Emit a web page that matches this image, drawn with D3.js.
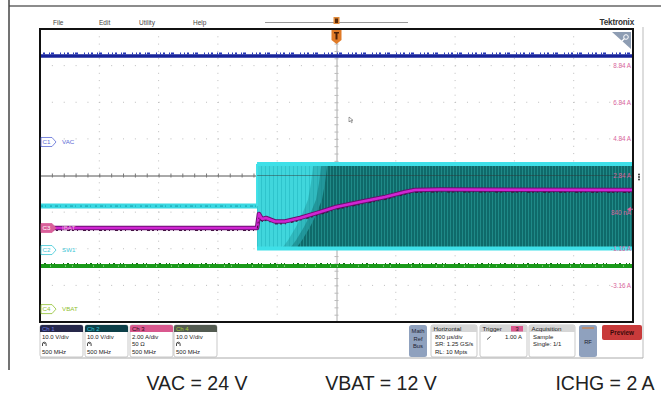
<!DOCTYPE html>
<html><head><meta charset="utf-8">
<script src="https://cdn.jsdelivr.net/npm/d3@7"></script>
<style>body{margin:0;background:#fff}svg{display:block}</style>
</head><body><svg id="c" width="661" height="394"></svg>
<script>
// ---------------- DATA ----------------
const divisionsX = d3.range(-5, 6);          // horizontal divisions (800 us/div)
const divisionsY = d3.range(-4, 5);          // vertical divisions
const timeDomainMs = [-4, 4];

const vacTime = [-4, 4];
const vacVolts = [23.5, 23.5];
const vbatTime = [-4, 4];
const vbatVolts = [11.75, 11.75];
const sw1IdleTime = [-4, -1.072];
const sw1IdleVolts = [12.0, 12.0];
const sw1BandTime = [-1.072, 4];
const sw1BandHigh = [23.5, 23.5];
const sw1BandLow = [0.4, 0.4];
const sw1DenseVolts = [23.0, 22.7, 18.3, 13.7, 9.0, 6.3, 2.7, 0.8, 0.4];
const sw1DenseTime = [-0.120, -0.128, -0.155, -0.196, -0.290, -0.358, -0.465, -0.533, -0.560];
const ibatTime = [-4, -1.072, -1.059, -1.046, -1.005, -0.951, -0.830, -0.695, -0.492, -0.223, -0.007, 0.317, 0.654, 0.924, 1.059, 1.396, 4.0];
const ibatAmps = [0, 0, 0.40, 0.77, 0.49, 0.55, 0.36, 0.36, 0.55, 0.87, 1.15, 1.42, 1.69, 1.97, 2.08, 2.10, 2.08];

const rightTickDivs = [3, 2, 1, 0, -1, -2, -3];
const rightTickLabels = ["8.84 A", "6.84 A", "4.84 A", "2.84 A", "840 nA", "-1.16 A", "-3.16 A"];
const menuItems = ["File", "Edit", "Utility", "Help"];
const channelNames = ["Ch 1", "Ch 2", "Ch 3", "Ch 4"];
const channelScales = ["10.0 V/div", "10.0 V/div", "2.00 A/div", "10.0 V/div"];
const channelTerm = ["", "", "50 Ω", ""];
const channelBandwidth = ["500 MHz", "500 MHz", "500 MHz", "500 MHz"];
const traceBadges = ["C1", "C2", "C3", "C4"];
const traceNames = ["VAC", "SW1", "IBAT", "VBAT"];
const horizontalInfo = ["800 µs/div", "SR: 1.25 GS/s", "RL: 10 Mpts"];
const triggerSource = "3";
const triggerLevel = "1.00 A";
const acquisitionInfo = ["Sample", "Single: 1/1"];
const captions = ["VAC = 24 V", "VBAT = 12 V", "ICHG = 2 A"];

// ---------------- LAYOUT / STYLE ----------------
const svg = d3.select("#c");
const P = {x0: 40, x1: 633, y0: 29, y1: 322};
const x = d3.scaleLinear().domain(timeDomainMs).range([P.x0, P.x1]);
const xDiv = d3.scaleLinear().domain([-5, 5]).range([P.x0, P.x1]);
const yDiv = d3.scaleLinear().domain([-4, 4]).range([P.y1, P.y0]);
const ch = [
  {pos: 0.915, per: 10, color: "#1a2a9a", label: "#5b6bd6"},
  {pos: -2.035, per: 10, color: "#34dce4", label: "#3cc6d6"},
  {pos: -1.434, per: 2, color: "#cc22cc", label: "#d9609a"},
  {pos: -3.648, per: 10, color: "#1c9a1c", label: "#8fc030"}
];
const yCh = i => v => yDiv(ch[i].pos + v / ch[i].per);
const uiFont = "'Liberation Sans', Arial, sans-serif";

svg.append("rect").attr("width", 661).attr("height", 394).attr("fill", "#fff");

const defs = svg.append("defs");
defs.append("clipPath").attr("id", "clip").append("rect")
  .attr("x", P.x0).attr("y", P.y0).attr("width", P.x1 - P.x0).attr("height", P.y1 - P.y0);
const pd = defs.append("pattern").attr("id", "dense").attr("patternUnits", "userSpaceOnUse")
  .attr("width", 3).attr("height", 10);
pd.append("rect").attr("width", 3).attr("height", 10).attr("fill", "#0f6a6a");
pd.append("rect").attr("x", 0).attr("width", 1).attr("height", 10).attr("fill", "#1f8a88");
const pl = defs.append("pattern").attr("id", "light").attr("patternUnits", "userSpaceOnUse")
  .attr("width", 4).attr("height", 10);
pl.append("rect").attr("width", 4).attr("height", 10).attr("fill", "#40d6dc");
pl.append("rect").attr("x", 1).attr("width", 1).attr("height", 10).attr("fill", "#2fc4cc");

// outer frame
svg.append("line").attr("x1", 9).attr("x2", 661).attr("y1", 6).attr("y2", 6).attr("stroke", "#666").attr("stroke-width", 1.5);
svg.append("line").attr("x1", 9).attr("x2", 9).attr("y1", 0).attr("y2", 370).attr("stroke", "#444").attr("stroke-width", 1.5);
svg.append("line").attr("x1", 643).attr("x2", 643).attr("y1", 27).attr("y2", 358).attr("stroke", "#bbb").attr("stroke-width", 1);
svg.append("line").attr("x1", 40).attr("x2", 643).attr("y1", 358).attr("y2", 358).attr("stroke", "#aaa").attr("stroke-width", 1);

// menu
const menuX = [53, 99, 139, 193];
svg.selectAll(".menu").data(menuItems).enter().append("text")
  .attr("x", (d, i) => menuX[i]).attr("y", 24.5).text(d => d)
  .attr("font-family", uiFont).attr("font-size", 6.5).attr("fill", "#444");
svg.append("line").attr("x1", 265).attr("x2", 408).attr("y1", 22.5).attr("y2", 22.5).attr("stroke", "#999");
// tiny trigger T on timeline
svg.append("rect").attr("x", x(0) - 3).attr("y", 17).attr("width", 6).attr("height", 7).attr("fill", "#e08a3a");
svg.append("rect").attr("x", x(0) - 1.5).attr("y", 18.5).attr("width", 3).attr("height", 4.5).attr("fill", "#5a2a0a");
// Tektronix logo
svg.append("text").attr("x", 634).attr("y", 25).attr("text-anchor", "end").text("Tektronix")
  .attr("font-family", uiFont).attr("font-weight", "bold").attr("font-size", 8.2).attr("fill", "#333").attr("letter-spacing", -0.2);

// grid
const g = svg.append("g");
g.selectAll(".gx").data(divisionsX.filter(d => d > -5 && d < 5 && d !== 0)).enter().append("line")
  .attr("x1", d => xDiv(d)).attr("x2", d => xDiv(d)).attr("y1", P.y0).attr("y2", P.y1)
  .attr("stroke", "#bdbdbd").attr("stroke-dasharray", "1,6.3");
g.selectAll(".gy").data(divisionsY.filter(d => d > -4 && d < 4 && d !== 0)).enter().append("line")
  .attr("y1", d => yDiv(d)).attr("y2", d => yDiv(d)).attr("x1", P.x0).attr("x2", P.x1)
  .attr("stroke", "#bdbdbd").attr("stroke-dasharray", "1,10.86");
// center cross with subdivision ticks (via axes)
const axH = d3.axisBottom(xDiv).tickValues(d3.range(-5, 5.01, 0.2)).tickSize(4).tickFormat("");
g.append("g").attr("transform", `translate(0,${yDiv(0) - 2})`).call(axH)
  .call(s => s.selectAll("line").attr("stroke", "#777"))
  .call(s => s.select(".domain").attr("stroke", "#555").attr("transform", "translate(0,2)"));
const axV = d3.axisRight(yDiv).tickValues(d3.range(-4, 4.01, 0.2)).tickSize(4).tickFormat("");
g.append("g").attr("transform", `translate(${xDiv(0) - 2},0)`).call(axV)
  .call(s => s.selectAll("line").attr("stroke", "#bbb"))
  .call(s => s.select(".domain").attr("stroke", "#aaa").attr("transform", "translate(2,0)"));

// traces
const T = svg.append("g").attr("clip-path", "url(#clip)");
const line = (ts, vs, i) => d3.line().x((d, k) => x(ts[k])).y((d, k) => yCh(i)(vs[k]))(vs);

// VAC
T.append("path").attr("d", line(vacTime, vacVolts, 0)).attr("stroke", "#18249a").attr("stroke-width", 3.5).attr("fill", "none");
T.append("path").attr("d", line(vacTime, vacVolts, 0)).attr("transform", "translate(0,-2.5)")
  .attr("stroke", "#2a3ab8").attr("stroke-width", 2).attr("stroke-dasharray", "1,2,2,4,1,1,3,6,1,3").attr("fill", "none");

// SW1 idle
T.append("path").attr("d", line(sw1IdleTime, sw1IdleVolts, 1)).attr("stroke", "#3ad8e2").attr("stroke-width", 5).attr("fill", "none");
T.append("path").attr("d", line(sw1IdleTime, sw1IdleVolts, 1)).attr("stroke", "#1a9aa6").attr("stroke-width", 1).attr("stroke-dasharray", "3,2,1,4,2,3").attr("fill", "none");

// SW1 band - light region
const area = d3.area().x((d, k) => x(sw1BandTime[k])).y0((d, k) => yCh(1)(sw1BandLow[k])).y1((d, k) => yCh(1)(sw1BandHigh[k]));
T.append("path").attr("d", area(sw1BandHigh)).attr("fill", "url(#light)");
// transition zone
const denseEdge = sw1DenseTime.map((t, k) => [x(t), yCh(1)(sw1DenseVolts[k])]);
const densePoly = (dx) => [[x(sw1BandTime[1]), yCh(1)(sw1BandHigh[1])]]
  .concat(denseEdge.map(p => [p[0] + dx, p[1]]))
  .concat([[x(sw1BandTime[1]), yCh(1)(sw1BandLow[1])]]);
T.append("path").attr("d", d3.line()(densePoly(-14)) + "Z").attr("fill", "#1b8e90").attr("opacity", 0.4);
T.append("path").attr("d", d3.line()(densePoly(-6)) + "Z").attr("fill", "#157c7e").attr("opacity", 0.55);
T.append("path").attr("d", d3.line()(densePoly(0)) + "Z").attr("fill", "url(#dense)");
// band edges
T.append("path").attr("d", line(sw1BandTime, sw1BandHigh, 1)).attr("stroke", "#3ee0e8").attr("stroke-width", 4).attr("fill", "none");
T.append("path").attr("d", line(sw1BandTime, sw1BandLow, 1)).attr("stroke", "#3ee0e8").attr("stroke-width", 4).attr("fill", "none");
T.append("line").attr("x1", x(sw1BandTime[0])).attr("x2", x(sw1BandTime[0]))
  .attr("y1", yCh(1)(sw1IdleVolts[1])).attr("y2", yCh(1)(sw1BandHigh[0])).attr("stroke", "#3ee0e8").attr("stroke-width", 2);
// center graticule line seen through band
T.append("line").attr("x1", x(sw1BandTime[0])).attr("x2", P.x1).attr("y1", yDiv(0)).attr("y2", yDiv(0))
  .attr("stroke", "#333").attr("opacity", 0.45);

// VBAT
T.append("path").attr("d", line(vbatTime, vbatVolts, 3)).attr("stroke", "#1a9a1a").attr("stroke-width", 4).attr("fill", "none");
T.append("path").attr("d", line(vbatTime, vbatVolts, 3)).attr("stroke", "#e8ffe8").attr("stroke-width", 1)
  .attr("stroke-dasharray", "1,9,1,14,1,6,1,20").attr("opacity", 0.8).attr("fill", "none");
T.append("path").attr("d", line(vbatTime, vbatVolts, 3)).attr("transform", "translate(0,-2.5)")
  .attr("stroke", "#137013").attr("stroke-width", 1.2).attr("stroke-dasharray", "1,3,2,5,1,2,1,8").attr("fill", "none");

// IBAT
T.append("path").attr("d", line(ibatTime, ibatAmps, 2)).attr("stroke", "#6a1070").attr("stroke-width", 4.5).attr("fill", "none").attr("stroke-linejoin", "round");
T.append("path").attr("d", line(ibatTime, ibatAmps, 2)).attr("stroke", "#d025d2").attr("stroke-width", 2.6).attr("fill", "none").attr("stroke-linejoin", "round");
T.append("path").attr("d", line(ibatTime, ibatAmps, 2)).attr("transform", "translate(0,2.5)")
  .attr("stroke", "#401040").attr("stroke-width", 1).attr("stroke-dasharray", "2,3,1,5,3,2").attr("fill", "none");

// right scale labels (Ch3) drawn over the traces
const axR = d3.axisLeft(yDiv).tickValues(rightTickDivs).tickSize(0).tickPadding(0)
  .tickFormat((d, i) => rightTickLabels[i]);
svg.append("g").attr("transform", `translate(${P.x1 - 2},0)`).call(axR)
  .call(s => s.select(".domain").remove())
  .call(s => s.selectAll("text").attr("fill", "#d8649c").attr("font-family", uiFont).attr("font-size", 6.3));

// graticule border
svg.append("rect").attr("x", P.x0).attr("y", P.y0).attr("width", P.x1 - P.x0).attr("height", P.y1 - P.y0)
  .attr("fill", "none").attr("stroke", "#111").attr("stroke-width", 2);

// trigger marker at top
const tx = x(0);
svg.append("path").attr("d", `M${tx - 5},30 h10 v10 l-5,4 l-5,-4 Z`).attr("fill", "#e07b28");
svg.append("path").attr("d", `M${tx - 2.5},32 h5 v1.5 h-1.5 v6 h-2 v-6 h-1.5 Z`).attr("fill", "#4a2008");

// magnifier triangle
svg.append("path").attr("d", "M612,32 L631,32 L631,49 Z").attr("fill", "#8e9db3");
svg.append("circle").attr("cx", 626).attr("cy", 37).attr("r", 2.3).attr("fill", "none").attr("stroke", "#fff").attr("stroke-width", 1);
svg.append("line").attr("x1", 624.3).attr("y1", 38.8).attr("x2", 620).attr("y2", 43).attr("stroke", "#fff").attr("stroke-width", 1.2);

// channel badges on the left
traceBadges.forEach((b, i) => {
  const yy = yDiv(ch[i].pos);
  const filled = i === 2;
  svg.append("path").attr("d", `M41,${yy - 4.5} h11 l4,4.5 l-4,4.5 h-11 Z`)
    .attr("fill", filled ? ch[i].label : "#fff").attr("stroke", ch[i].label).attr("stroke-width", 0.8);
  svg.append("text").attr("x", 42.5).attr("y", yy + 2.2).text(b)
    .attr("font-family", uiFont).attr("font-size", 6.2).attr("fill", filled ? "#fff" : ch[i].label);
  svg.append("text").attr("x", 62).attr("y", yy + 2.2).text(traceNames[i])
    .attr("font-family", uiFont).attr("font-size", 6.2).attr("fill", filled ? "#f2b8dc" : ch[i].label);
});

// right side markers
svg.append("path").attr("d", `M627,${yDiv(-0.92)} l4,-2.5 v5 Z`).attr("fill", "#d8649c");
svg.append("line").attr("x1", 629).attr("x2", 633).attr("y1", yDiv(-0.92)).attr("y2", yDiv(-0.92)).attr("stroke", "#d8649c");
[-2.5, 0, 2.5].forEach(d => svg.append("circle").attr("cx", 639).attr("cy", 177 + d).attr("r", 0.9).attr("fill", "#222"));
// mouse cursor
svg.append("path").attr("d", "M349,117 l0,5 l1.3,-1.3 l1.2,2 l0.8,-0.4 l-1.1,-2 l1.8,0 Z").attr("fill", "#fff").attr("stroke", "#444").attr("stroke-width", 0.5);

// bottom channel boxes
const boxX = [40, 85, 130, 174];
const hdrFill = ["#26284a", "#0c3f48", "#d9588e", "#525a50"];
const hdrText = ["#6a7ae0", "#38c8d8", "#2a0a18", "#a8cc38"];
channelNames.forEach((n, i) => {
  const bx = boxX[i], w = 43;
  svg.append("rect").attr("x", bx).attr("y", 325).attr("width", w).attr("height", 32).attr("rx", 2)
    .attr("fill", "#fff").attr("stroke", "#bbb").attr("stroke-width", 0.8);
  svg.append("path").attr("d", `M${bx},332 v-5 q0,-2 2,-2 h${w - 4} q2,0 2,2 v5 Z`).attr("fill", hdrFill[i]);
  svg.append("text").attr("x", bx + 2).attr("y", 330.8).text(n).attr("font-family", uiFont).attr("font-size", 6).attr("fill", hdrText[i]);
  svg.append("text").attr("x", bx + 2).attr("y", 338.5).text(channelScales[i]).attr("font-family", uiFont).attr("font-size", 6).attr("fill", "#222");
  if (channelTerm[i]) {
    svg.append("text").attr("x", bx + 2).attr("y", 346).text(channelTerm[i]).attr("font-family", uiFont).attr("font-size", 6).attr("fill", "#222");
  } else {
    svg.append("path").attr("d", `M${bx + 2.5},346 v-2 a1.8,1.8 0 0 1 3.6,0 v2 M${bx + 4.3},344 v-1`).attr("fill", "none").attr("stroke", "#333").attr("stroke-width", 0.9);
  }
  svg.append("text").attr("x", bx + 2).attr("y", 354).text(channelBandwidth[i]).attr("font-family", uiFont).attr("font-size", 6).attr("fill", "#222");
});

// Math/Ref/Bus
svg.append("rect").attr("x", 409).attr("y", 325).attr("width", 18).attr("height", 32).attr("rx", 2.5).attr("fill", "#8fa1be");
["Math", "Ref", "Bus"].forEach((t, k) => svg.append("text").attr("x", 418).attr("y", 333 + k * 7.5).attr("text-anchor", "middle")
  .text(t).attr("font-family", uiFont).attr("font-size", 5.8).attr("fill", "#223"));

function infoBox(bx, w, title, lines) {
  svg.append("rect").attr("x", bx).attr("y", 325).attr("width", w).attr("height", 32).attr("rx", 2)
    .attr("fill", "#fff").attr("stroke", "#bbb").attr("stroke-width", 0.8);
  svg.append("path").attr("d", `M${bx},332 v-5 q0,-2 2,-2 h${w - 4} q2,0 2,2 v5 Z`).attr("fill", "#d6d6d6");
  svg.append("text").attr("x", bx + 2.5).attr("y", 330.8).text(title).attr("font-family", uiFont).attr("font-size", 6.2).attr("fill", "#222");
  lines.forEach((l, k) => svg.append("text").attr("x", bx + 4).attr("y", 338.5 + k * 7.5).text(l)
    .attr("font-family", uiFont).attr("font-size", 6).attr("fill", "#222"));
}
infoBox(431, 46, "Horizontal", horizontalInfo);
infoBox(480, 47, "Trigger", []);
svg.append("rect").attr("x", 511).attr("y", 326).attr("width", 12).attr("height", 5.5).attr("fill", "#d9588e");
svg.append("text").attr("x", 517).attr("y", 330.8).attr("text-anchor", "middle").text(triggerSource).attr("font-family", uiFont).attr("font-size", 5.8).attr("fill", "#222");
svg.append("path").attr("d", "M487,339.5 l3.5,-3").attr("stroke", "#222").attr("stroke-width", 0.8);
svg.append("text").attr("x", 522).attr("y", 338.5).attr("text-anchor", "end").text(triggerLevel).attr("font-family", uiFont).attr("font-size", 6).attr("fill", "#222");
infoBox(529, 46, "Acquisition", acquisitionInfo);
// RF
svg.append("rect").attr("x", 579).attr("y", 325).attr("width", 18).attr("height", 32).attr("rx", 2.5).attr("fill", "#8fa1be");
svg.append("line").attr("x1", 582).attr("x2", 594).attr("y1", 328).attr("y2", 328).attr("stroke", "#e07b28").attr("stroke-width", 1);
svg.append("text").attr("x", 588).attr("y", 344).attr("text-anchor", "middle").text("RF").attr("font-family", uiFont).attr("font-size", 5.8).attr("fill", "#223");
// Preview
svg.append("rect").attr("x", 602).attr("y", 325).attr("width", 40).attr("height", 15).attr("rx", 2).attr("fill", "#c83a3a");
svg.append("text").attr("x", 622).attr("y", 334.8).attr("text-anchor", "middle").text("Preview").attr("font-family", uiFont)
  .attr("font-size", 6.3).attr("font-weight", "bold").attr("fill", "#3a0a0a");

// captions
const capX = [197, 381, 605];
svg.selectAll(".cap").data(captions).enter().append("text")
  .attr("x", (d, i) => capX[i]).attr("y", 390).attr("text-anchor", "middle").text(d => d)
  .attr("font-family", uiFont).attr("font-size", 19.5).attr("fill", "#222");
</script></body></html>
